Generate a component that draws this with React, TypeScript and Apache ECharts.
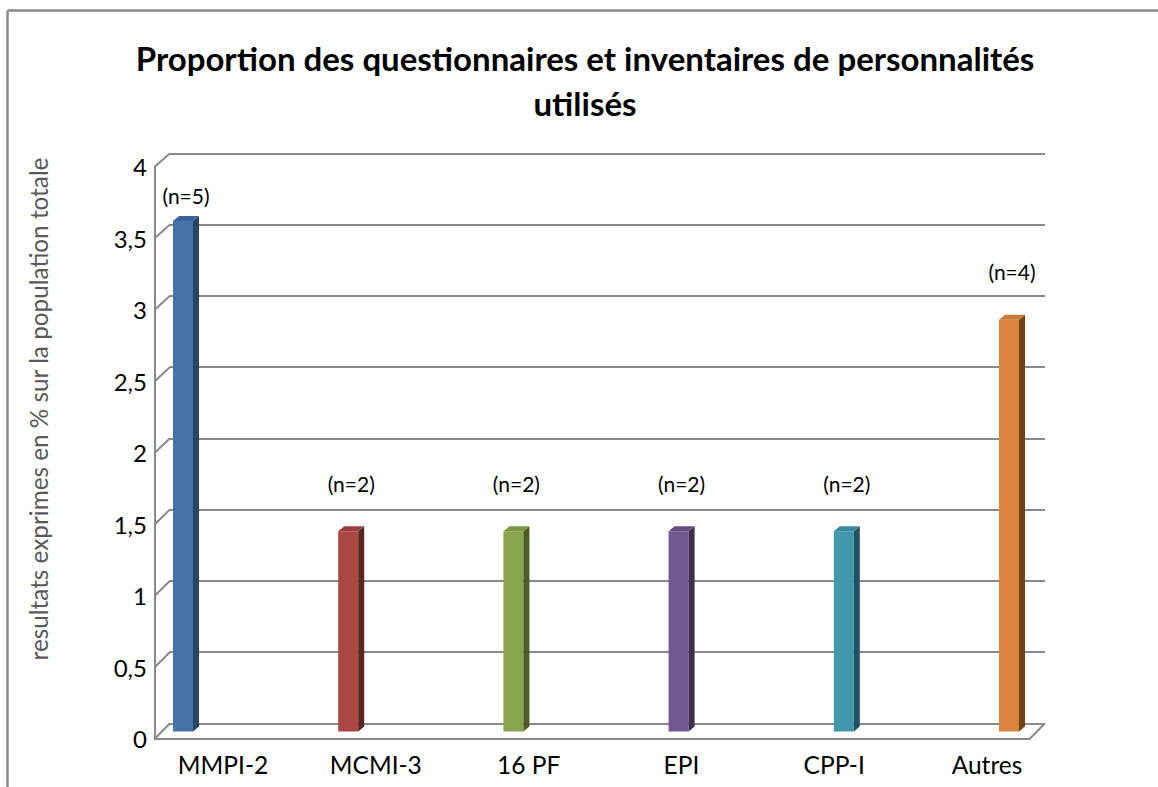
import React, { useEffect, useRef } from "react";
import * as echarts from "echarts";

const categories = ["MMPI-2", "MCMI-3", "16 PF", "EPI", "CPP-I", "Autres"];
const values = [3.57, 1.4, 1.4, 1.4, 1.4, 2.88];
const countLabels = ["(n=5)", "(n=2)", "(n=2)", "(n=2)", "(n=2)", "(n=4)"];
const frontColors = ["#4572a7", "#aa4643", "#89a54e", "#71588f", "#4198af", "#db843d"];
const sideColors = ["#2a4466", "#5c2523", "#4b5c26", "#3c2e4e", "#215463", "#714216"];
const topColors = ["#3d6598", "#9a3f3c", "#7b9545", "#655080", "#3a889e", "#c97a38"];
const yMax = 4;
const yStep = 0.5;
const yTicks = [0, 0.5, 1, 1.5, 2, 2.5, 3, 3.5, 4];
const titleLines = ["Proportion des questionnaires et inventaires de personnalités", "utilisés"];
const yAxisName = "resultats exprimes en % sur la population totale";

const FONT = "Lato";
const GRAY = "#8a8a8a";

// layout
const back = { left: 170, top: 153.3, width: 875, height: 570 };
const front = { left: 155, top: 166.5, width: 875, height: 572 };
const labels = { left: 146.6, top: 166.5, width: 916.8, height: 572 };
const bars = { left: 100.4, top: 159.5, width: 991.2, height: 572 };

export default function App() {
  const ref = useRef<HTMLDivElement>(null);
  useEffect(() => {
    if (!ref.current) return;
    const chart = echarts.init(ref.current, null, { renderer: "svg" });

    const diag: any[] = yTicks.map((v) => {
      const fy = front.top + front.height * (1 - v / yMax);
      const by = back.top + back.height * (1 - v / yMax);
      return {
        type: "line",
        shape: { x1: front.left, y1: fy, x2: back.left, y2: by },
        style: { stroke: GRAY, lineWidth: 2 },
        silent: true,
      };
    });
    diag.push({
      type: "line",
      shape: {
        x1: front.left + front.width,
        y1: front.top + front.height,
        x2: back.left + back.width,
        y2: back.top + back.height,
      },
      style: { stroke: GRAY, lineWidth: 2 },
    });

    const grids = [back, front, labels, bars].map((g) => ({
      left: g.left,
      top: g.top,
      width: g.width,
      height: g.height,
      containLabel: false,
    }));

    const valueAxisBase = { type: "value", min: 0, max: yMax, interval: yStep };

    chart.setOption({
      animation: false,
      backgroundColor: "#ffffff",
      grid: grids,
      graphic: [
        {
          type: "line",
          shape: { x1: 7.5, y1: 10.5, x2: 1158, y2: 10.5 },
          style: { stroke: GRAY, lineWidth: 2.5 },
        },
        {
          type: "line",
          shape: { x1: 7.5, y1: 10.5, x2: 7.5, y2: 787 },
          style: { stroke: GRAY, lineWidth: 2.5 },
        },
        {
          type: "text",
          x: 585,
          y: 58,
          style: {
            text: titleLines[0],
            textAlign: "center",
            textVerticalAlign: "middle",
            fill: "#000",
            font: `bold 33px ${FONT}`,
          },
        },
        {
          type: "text",
          x: 585,
          y: 103,
          style: {
            text: titleLines[1],
            textAlign: "center",
            textVerticalAlign: "middle",
            fill: "#000",
            font: `bold 33px ${FONT}`,
          },
        },
        {
          type: "text",
          x: 38,
          y: 409,
          rotation: Math.PI / 2,
          style: {
            text: yAxisName,
            textAlign: "center",
            textVerticalAlign: "middle",
            fill: "#595959",
            font: `24.3px ${FONT}`,
          },
        },
        ...diag,
      ],
      xAxis: [
        { gridIndex: 0, type: "category", data: categories, show: false },
        {
          gridIndex: 1,
          type: "category",
          data: categories,
          axisLine: { show: true, lineStyle: { color: GRAY, width: 2 } },
          axisTick: { show: false },
          axisLabel: { show: false },
        },
        {
          gridIndex: 2,
          type: "category",
          data: categories,
          axisLine: { show: false },
          axisTick: { show: false },
          axisLabel: { show: true, color: "#000", fontFamily: FONT, fontSize: 24.5, margin: 13 },
        },
        { gridIndex: 3, type: "category", data: categories, show: false },
      ],
      yAxis: [
        {
          ...valueAxisBase,
          gridIndex: 0,
          axisLine: { show: false },
          axisTick: { show: false },
          axisLabel: { show: false },
          splitLine: { show: true, lineStyle: { color: GRAY, width: 2 } },
        },
        {
          ...valueAxisBase,
          gridIndex: 1,
          axisLine: { show: true, lineStyle: { color: GRAY, width: 2 } },
          axisTick: { show: false },
          splitLine: { show: false },
          axisLabel: {
            show: true,
            color: "#000",
            fontFamily: FONT,
            fontSize: 24,
            margin: 8,
            formatter: (v: number) => String(v).replace(".", ","),
          },
        },
        { ...valueAxisBase, gridIndex: 2, show: false, splitLine: { show: false } },
        { ...valueAxisBase, gridIndex: 3, show: false, splitLine: { show: false } },
      ],
      series: [
        {
          type: "custom",
          xAxisIndex: 3,
          yAxisIndex: 3,
          data: categories.map((c, i) => [i, values[i]]),
          renderItem: (params: any, api: any) => {
            const idx = api.value(0);
            const v = api.value(1);
            const b = api.coord([idx, 0]);
            const t = api.coord([idx, v]);
            const yTop = api.coord([idx, yMax])[1];
            const w = 20;
            const dx = 6;
            const dy = 5;
            const x0 = b[0] - w / 2;
            const labelY = Math.max(t[1] - 48, yTop + 36);
            return {
              type: "group",
              children: [
                {
                  type: "rect",
                  shape: { x: x0, y: t[1], width: w, height: b[1] - t[1] },
                  style: { fill: frontColors[idx] },
                },
                {
                  type: "polygon",
                  shape: {
                    points: [
                      [x0 + w, t[1]],
                      [x0 + w + dx, t[1] - dy],
                      [x0 + w + dx, b[1] - dy],
                      [x0 + w, b[1]],
                    ],
                  },
                  style: { fill: sideColors[idx] },
                },
                {
                  type: "polygon",
                  shape: {
                    points: [
                      [x0, t[1]],
                      [x0 + dx, t[1] - dy],
                      [x0 + w + dx, t[1] - dy],
                      [x0 + w, t[1]],
                    ],
                  },
                  style: { fill: topColors[idx] },
                },
                {
                  type: "text",
                  style: {
                    text: countLabels[idx],
                    x: b[0] + 3,
                    y: labelY,
                    textAlign: "center",
                    textVerticalAlign: "middle",
                    fill: "#000",
                    font: `21px ${FONT}`,
                  },
                },
              ],
            };
          },
        },
      ],
    });
    return () => chart.dispose();
  }, []);
  return (
    <div
      ref={ref}
      style={{ position: "absolute", left: 0, top: 0, width: 1158, height: 787 }}
    />
  );
}
